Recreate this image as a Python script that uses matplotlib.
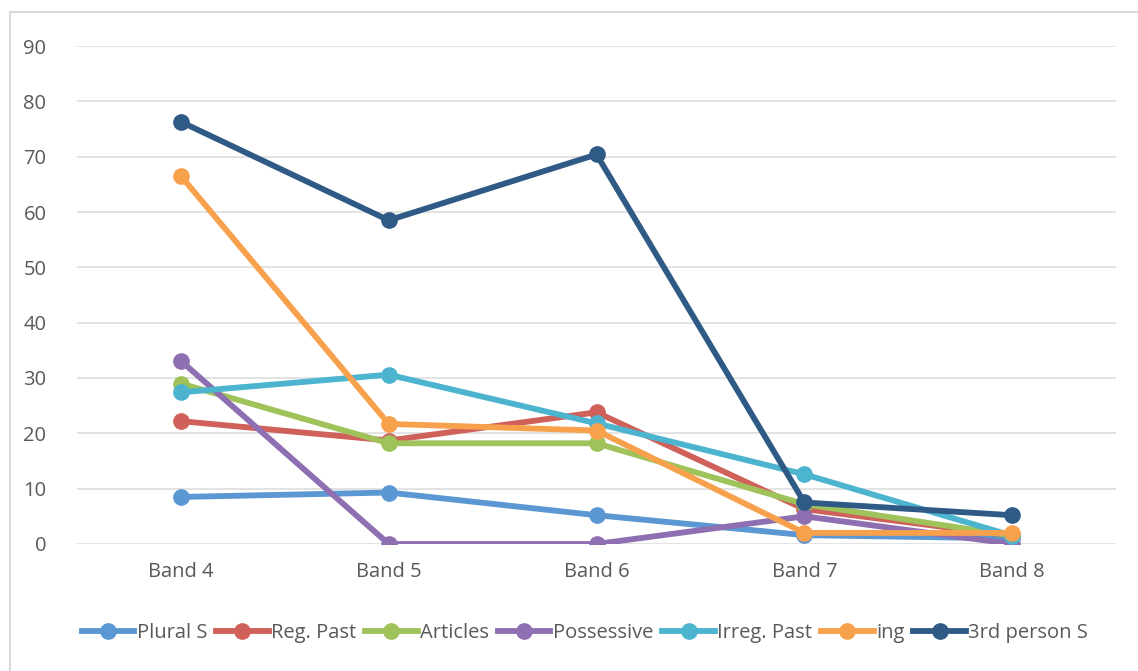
import matplotlib
matplotlib.use("Agg")
import matplotlib.pyplot as plt
from matplotlib.lines import Line2D

plt.rcParams['font.family'] = ['Open Sans', 'DejaVu Sans']

bands = ["Band 4", "Band 5", "Band 6", "Band 7", "Band 8"]
plural_s = [8.5, 9.3, 5.2, 1.6, 1.0]
reg_past = [22.2, 18.7, 23.8, 6.3, 1.5]
articles = [29.0, 18.2, 18.2, 7.2, 1.5]
possessive = [33.1, 0.0, 0.0, 5.0, 0.0]
irreg_past = [27.4, 30.6, 21.8, 12.6, 1.5]
ing = [66.5, 21.7, 20.5, 2.0, 2.0]
third_person_s = [76.3, 58.5, 70.4, 7.5, 5.2]

series = [
    ("Plural S", plural_s, "#5b97d2"),
    ("Reg. Past", reg_past, "#d0605a"),
    ("Articles", articles, "#9fc35a"),
    ("Possessive", possessive, "#8e6fb1"),
    ("Irreg. Past", irreg_past, "#4db4cf"),
    ("ing", ing, "#f8a14c"),
    ("3rd person S", third_person_s, "#2f5a86"),
]

fig = plt.figure(figsize=(11.38, 6.71), dpi=100)
ax = fig.add_axes([0.0677, 0.1893, 0.913, 0.7421])

x = list(range(len(bands)))
for name, vals, col in series:
    ax.plot(x, vals, color=col, lw=4.2, marker="o", ms=11, label=name,
            solid_capstyle="round", solid_joinstyle="round")

ax.set_xlim(-0.5, len(bands) - 0.5)
ax.set_ylim(0, 90)
ax.set_yticks(range(0, 91, 10))
ax.set_xticks(x)
ax.set_xticklabels(bands)
ax.grid(axis="y", color="#e0e0e0", lw=1.3)
ax.set_axisbelow(True)
for s in ax.spines.values():
    s.set_visible(False)
ax.tick_params(axis="both", length=0, labelsize=14.5, colors="#595959")
ax.tick_params(axis="y", pad=22)
ax.tick_params(axis="x", pad=13)

handles = [Line2D([0], [0], color=c, lw=4.2, marker="o", ms=11) for _, _, c in series]
fig.legend(handles, [n for n, _, _ in series], loc="center", bbox_to_anchor=(0.514, 0.057),
           ncol=7, frameon=False, fontsize=14.5, handlelength=2.6, handletextpad=0.12,
           columnspacing=0.45, labelcolor="#595959")

# chart area frame
fig.add_artist(Line2D([10 / 1138, 1.0], [1 - 12 / 671] * 2, color="#d9d9d9", lw=1.5,
                      transform=fig.transFigure))
fig.add_artist(Line2D([10 / 1138] * 2, [0.0, 1 - 12 / 671], color="#d9d9d9", lw=1.5,
                      transform=fig.transFigure))

fig.savefig("out.png", dpi=100)
